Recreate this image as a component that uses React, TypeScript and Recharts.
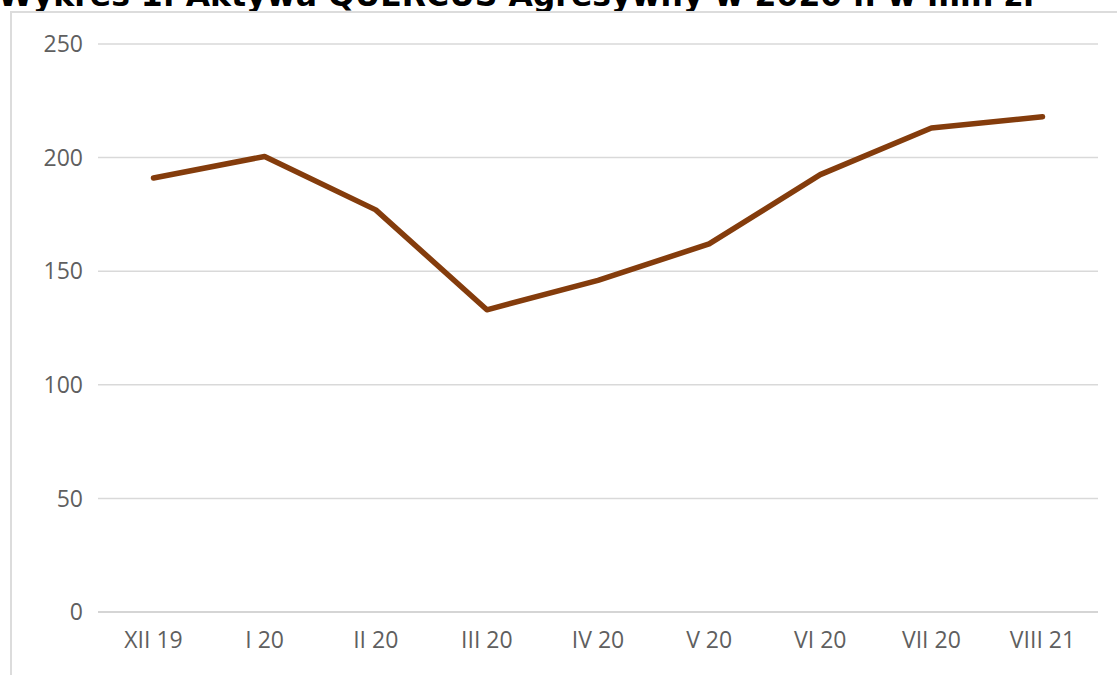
import { CartesianGrid, Line, LineChart, XAxis, YAxis } from "recharts";

const TITLE = "Wykres 1. Aktywa QUERCUS Agresywny w 2020 r. w mln zł";
const MONTHS = ["XII 19", "I 20", "II 20", "III 20", "IV 20", "V 20", "VI 20", "VII 20", "VIII 21"];
const ASSETS = [191, 200.5, 177, 133, 146, 162, 192.5, 213, 218];
const Y_TICKS = [0, 50, 100, 150, 200, 250];

const data = MONTHS.map((month, i) => ({ month, value: ASSETS[i] }));

const tickStyle = {
  fontSize: 23,
  fill: "#5f5f5f",
  fontFamily: '"Open Sans", sans-serif',
};

export default function App() {
  return (
    <div style={{ position: "fixed", left: 0, top: 0, width: 1117, height: 675, overflow: "hidden", background: "#fff" }}>
      {/* title is cropped at the top edge, same as the source image */}
      <div
        style={{
          position: "absolute",
          left: -2,
          top: -23,
          fontFamily: '"DejaVu Sans", Verdana, sans-serif',
          fontWeight: "bold",
          fontSize: 31.5,
          whiteSpace: "nowrap",
          color: "#000",
        }}
      >
        {TITLE}
      </div>
      <div
        style={{
          position: "absolute",
          left: 10,
          top: 11,
          width: 1200,
          height: 700,
          borderLeft: "2px solid #dcdcdc",
          borderTop: "2px solid #dcdcdc",
        }}
      />
      <div style={{ position: "absolute", left: 0, top: 0 }}>
        <LineChart width={1117} height={675} data={data} margin={{ top: 44, right: 19, bottom: 23, left: 0 }}>
          <CartesianGrid vertical={false} stroke="#d9d9d9" strokeWidth={1.5} />
          <XAxis
            dataKey="month"
            padding={{ left: 55.5, right: 55.5 }}
            height={40}
            tickSize={0}
            tickMargin={20}
            tickLine={false}
            axisLine={{ stroke: "#d0d0d0", strokeWidth: 1.5 }}
            tick={tickStyle}
            interval={0}
          />
          <YAxis
            domain={[0, 250]}
            ticks={Y_TICKS}
            width={98}
            tickSize={0}
            tickMargin={15}
            tickLine={false}
            axisLine={false}
            tick={tickStyle}
          />
          <Line
            dataKey="value"
            stroke="#843C0C"
            strokeWidth={5.5}
            strokeLinejoin="round"
            strokeLinecap="round"
            dot={false}
            isAnimationActive={false}
          />
        </LineChart>
      </div>
    </div>
  );
}
